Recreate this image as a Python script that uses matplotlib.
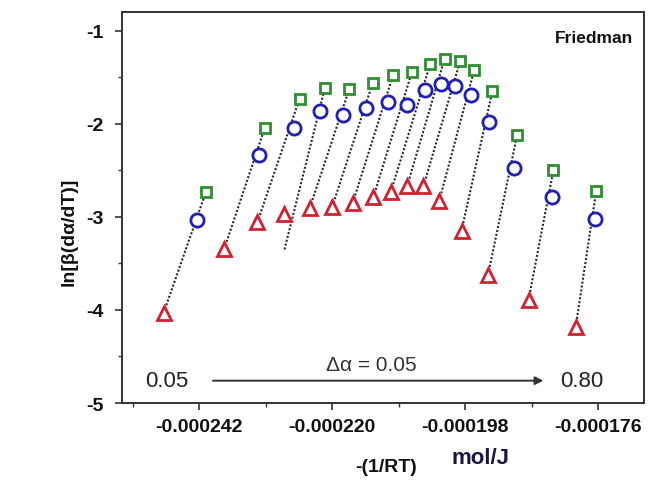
"""Friedman isoconversional plot: ln[beta(da/dT)] vs -(1/RT)."""

import matplotlib

matplotlib.use("Agg")
import matplotlib.pyplot as plt
import numpy as np
from matplotlib.ticker import FuncFormatter, MultipleLocator

# conversion levels 0.05 ... 0.80 (16 groups); x values in units of 1e-6 mol/J
alpha = [0.05, 0.10, 0.15, 0.20, 0.25, 0.30, 0.35, 0.40,
         0.45, 0.50, 0.55, 0.60, 0.65, 0.70, 0.75, 0.80]

x_square = [-240.9, -231.2, -225.4, -221.2, -217.2, -213.3, -209.9, -206.8,
            -203.8, -201.4, -198.8, -196.5, -193.5, -189.4, -183.4, -176.3]
y_square = [-2.73, -2.05, -1.73, -1.61, -1.63, -1.56, -1.47, -1.44,
            -1.36, -1.30, -1.32, -1.42, -1.65, -2.12, -2.50, -2.72]

x_circle = [-242.3, -232.1, -226.3, -222.1, -218.3, -214.4, -210.8, -207.7,
            -204.6, -202.0, -199.7, -197.1, -194.1, -189.9, -183.7, -176.5]
y_circle = [-3.03, -2.34, -2.05, -1.86, -1.91, -1.83, -1.76, -1.80,
            -1.64, -1.57, -1.59, -1.69, -1.98, -2.47, -2.79, -3.02]

x_triangle = [-247.9, -237.9, -232.4, -227.9, -223.7, -220.0, -216.6, -213.2,
              -210.3, -207.6, -204.9, -202.3, -198.6, -194.2, -187.5, -179.7]
y_triangle = [-4.03, -3.35, -3.06, -2.97, -2.90, -2.89, -2.85, -2.79,
              -2.73, -2.67, -2.67, -2.83, -3.15, -3.62, -3.89, -4.18]

# lower end of the dotted fit line (same as triangle except one group)
x_line_low = list(x_triangle)
y_line_low = list(y_triangle)
x_line_low[3] = -227.9
y_line_low[3] = -3.35

GREEN = "#2f8f2f"
BLUE = "#2020b8"
RED = "#d42030"

plt.rcParams.update(
    {
        "font.family": ["Liberation Sans", "DejaVu Sans"],
        "axes.linewidth": 1.4,
        "axes.edgecolor": "#333333",
        "xtick.major.size": 5,
        "ytick.major.size": 5,
        "xtick.minor.size": 3,
        "ytick.minor.size": 3,
        "xtick.major.width": 1.2,
        "ytick.major.width": 1.2,
        "xtick.minor.width": 1.0,
        "ytick.minor.width": 1.0,
        "xtick.color": "#333333",
        "ytick.color": "#333333",
    }
)

fig = plt.figure(figsize=(6.54, 4.85), dpi=100)
ax = fig.add_axes([0.1865, 0.167, 0.7982, 0.8068])

scale = 1e-6
xs = np.array(x_square) * scale
xc = np.array(x_circle) * scale
xt = np.array(x_triangle) * scale
xl = np.array(x_line_low) * scale

for i in range(len(alpha)):
    ax.plot(
        [xl[i], xs[i]],
        [y_line_low[i], y_square[i]],
        linestyle=(0, (1, 0.9)),
        color="#2a2a2a",
        linewidth=1.5,
        zorder=1,
    )

ax.plot(xs, y_square, linestyle="none", marker="s", markersize=7.5,
        markerfacecolor="white", markeredgecolor=GREEN, markeredgewidth=2, zorder=3)
ax.plot(xc, y_circle, linestyle="none", marker="o", markersize=9.5,
        markerfacecolor="white", markeredgecolor=BLUE, markeredgewidth=2, zorder=3)
ax.plot(xt, y_triangle, linestyle="none", marker="^", markersize=10,
        markerfacecolor="white", markeredgecolor=RED, markeredgewidth=2, zorder=3)

ax.set_xlim(-254.8 * scale, -168.4 * scale)
ax.set_ylim(-5, -0.795)

ax.xaxis.set_major_locator(MultipleLocator(22 * scale))
ax.xaxis.set_minor_locator(MultipleLocator(11 * scale))
ax.xaxis.set_major_formatter(FuncFormatter(lambda v, _: f"{v:.6f}"))
ax.yaxis.set_major_locator(MultipleLocator(1))
ax.yaxis.set_minor_locator(MultipleLocator(0.5))
ax.yaxis.set_major_formatter(FuncFormatter(lambda v, _: f"{v:.0f}"))

ax.tick_params(axis="both", which="both", direction="out", top=False, right=False)
ax.tick_params(axis="x", which="major", labelsize=14, pad=6)
ax.tick_params(axis="y", which="major", labelsize=14, pad=8)
for lab in ax.get_xticklabels() + ax.get_yticklabels():
    lab.set_fontweight("bold")
    lab.set_color("#111111")

ax.set_ylabel("ln[β(dα/dT)]", fontsize=14, fontweight="bold", color="#111111")
ax.yaxis.set_label_coords(-0.084, 0.44)

# x label in two parts
fig.text(0.59, 0.037, "-(1/RT)", fontsize=14, fontweight="bold",
         color="#111111", ha="center", va="center")
fig.text(0.735, 0.055, "mol/J", fontsize=16, fontweight="bold",
         color="#1c1446", ha="center", va="center")

ax.text(0.979, 0.935, "Friedman", transform=ax.transAxes, fontsize=12.5,
        fontweight="bold", color="#111111", ha="right", va="center")

# conversion arrow
ax.annotate(
    "",
    xy=(-184.6 * scale, -4.76),
    xytext=(-240.2 * scale, -4.76),
    arrowprops=dict(arrowstyle="-|>", color="#333333", lw=1.4, mutation_scale=12),
)
ax.text(-247.4 * scale, -4.76, f"{alpha[0]:.2f}", fontsize=16, color="#222222",
        ha="center", va="center")
ax.text(-178.7 * scale, -4.76, f"{alpha[-1]:.2f}", fontsize=16, color="#222222",
        ha="center", va="center")
ax.text(-213.6 * scale, -4.59, "Δα = 0.05", fontsize=15, color="#333333",
        ha="center", va="center")

fig.savefig("out.png", dpi=100)
